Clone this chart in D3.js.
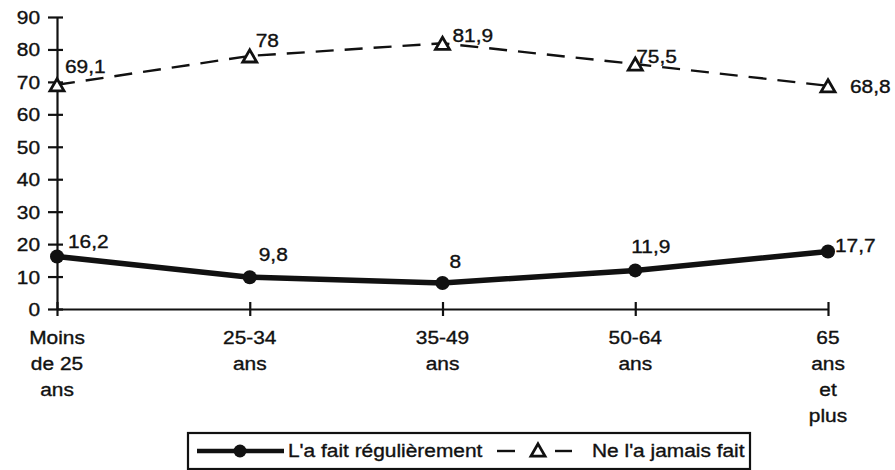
<!DOCTYPE html>
<html>
<head>
<meta charset="utf-8">
<script src="https://cdn.jsdelivr.net/npm/d3@7"></script>
<style>
  body { margin: 0; background: #fff; }
  text { font-family: "Liberation Sans", Arial, sans-serif; fill: #111; font-size: 18px; stroke: #111; stroke-width: 0.35px; }
</style>
</head>
<body>
<script>
// age groups, each label split into lines
var categories = ["Moins de 25 ans", "25-34 ans", "35-49 ans", "50-64 ans", "65 ans et plus"];
var catLines = [["Moins", "de 25", "ans"], ["25-34", "ans"], ["35-49", "ans"], ["50-64", "ans"], ["65", "ans", "et", "plus"]];
var regulier = [16.2, 9.8, 8, 11.9, 17.7];   // L'a fait régulièrement
var jamais = [69.1, 78, 81.9, 75.5, 68.8];   // Ne l'a jamais fait
var yTicks = [0, 10, 20, 30, 40, 50, 60, 70, 80, 90];

// label offsets from each point [dx, dy]
var jamaisOff = [[8, -12], [6, -9], [10, -1], [1, -1], [22, 7]];
var regOff = [[11, -8], [9, -16], [7, -15], [-4, -17], [7, 0]];

var w = 895, h = 470;
var svg = d3.select("body").append("svg").attr("width", w).attr("height", h);

// the scanned text is a little wider than Arial
function stretch(sel) {
  sel.each(function() {
    var l = this.getComputedTextLength();
    d3.select(this).attr("textLength", l * 1.16).attr("lengthAdjust", "spacingAndGlyphs");
  });
}

var x = d3.scalePoint().domain(categories).range([57, 828]);
var y = d3.scaleLinear().domain([0, 90]).range([309, 17]);

// y axis
var yAxis = svg.append("g").attr("transform", "translate(57,0)")
  .call(d3.axisLeft(y).tickValues(yTicks).tickSizeInner(9).tickSizeOuter(0).tickPadding(8).tickFormat(d3.format("d")));
yAxis.select(".domain").attr("stroke", "#111").attr("stroke-width", 2.2);
yAxis.selectAll(".tick line").attr("x1", -9).attr("x2", 6).attr("stroke", "#111").attr("stroke-width", 2.2);
yAxis.selectAll(".tick text").attr("font-size", null).attr("font-family", null).attr("fill", "#111").attr("dy", "0.36em");
stretch(yAxis.selectAll(".tick text"));

// x axis
var xAxis = svg.append("g").attr("transform", "translate(0," + y(0) + ")")
  .call(d3.axisBottom(x).tickSizeInner(7).tickSizeOuter(0).tickFormat(""));
xAxis.select(".domain").attr("stroke", "#111").attr("stroke-width", 2.2);
xAxis.selectAll(".tick line").attr("y1", -7).attr("y2", 7).attr("stroke", "#111").attr("stroke-width", 2.2);

// category labels
categories.forEach(function(c, i) {
  catLines[i].forEach(function(l, j) {
    svg.append("text").attr("x", x(c)).attr("y", 344 + j * 26)
      .attr("text-anchor", "middle").text(l).call(stretch);
  });
});

var line = d3.line().x(function(d, i) { return x(categories[i]); }).y(function(d) { return y(d); });

// dashed series
svg.append("path").datum(jamais).attr("d", line)
  .attr("fill", "none").attr("stroke", "#111").attr("stroke-width", 2.4).attr("stroke-dasharray", "18,11");
var tri = d3.symbol().type(d3.symbolTriangle).size(85);
svg.selectAll(".tri").data(jamais).enter().append("path")
  .attr("transform", function(d, i) { return "translate(" + x(categories[i]) + "," + (y(d) + 2) + ")"; })
  .attr("d", tri).attr("fill", "#fff").attr("stroke", "#111").attr("stroke-width", 2.8);

// solid series
svg.append("path").datum(regulier).attr("d", line)
  .attr("fill", "none").attr("stroke", "#111").attr("stroke-width", 5.5);
svg.selectAll(".dot").data(regulier).enter().append("circle")
  .attr("cx", function(d, i) { return x(categories[i]); })
  .attr("cy", function(d) { return y(d); })
  .attr("r", 7).attr("fill", "#111");

// value labels
var fmt = function(v) { return String(v).replace(".", ","); };
jamais.forEach(function(v, i) {
  svg.append("text").attr("x", x(categories[i]) + jamaisOff[i][0]).attr("y", y(v) + jamaisOff[i][1])
    .text(fmt(v)).call(stretch);
});
regulier.forEach(function(v, i) {
  svg.append("text").attr("x", x(categories[i]) + regOff[i][0]).attr("y", y(v) + regOff[i][1])
    .text(fmt(v)).call(stretch);
});

// legend
var lg = svg.append("g");
lg.append("rect").attr("x", 188).attr("y", 433).attr("width", 562).attr("height", 36)
  .attr("fill", "#fff").attr("stroke", "#111").attr("stroke-width", 2.2);
lg.append("line").attr("x1", 197).attr("x2", 284).attr("y1", 451).attr("y2", 451)
  .attr("stroke", "#111").attr("stroke-width", 4.5);
lg.append("circle").attr("cx", 240).attr("cy", 451).attr("r", 6.5).attr("fill", "#111");
lg.append("text").attr("x", 288).attr("y", 457).text("L'a fait régulièrement").call(stretch);
lg.append("line").attr("x1", 497).attr("x2", 515).attr("y1", 451).attr("y2", 451).attr("stroke", "#111").attr("stroke-width", 2.4);
lg.append("line").attr("x1", 555).attr("x2", 572).attr("y1", 451).attr("y2", 451).attr("stroke", "#111").attr("stroke-width", 2.4);
lg.append("path").attr("transform", "translate(538,452)").attr("d", tri)
  .attr("fill", "#fff").attr("stroke", "#111").attr("stroke-width", 2.8);
lg.append("text").attr("x", 592).attr("y", 457).text("Ne l'a jamais fait").call(stretch);
</script>
</body>
</html>
